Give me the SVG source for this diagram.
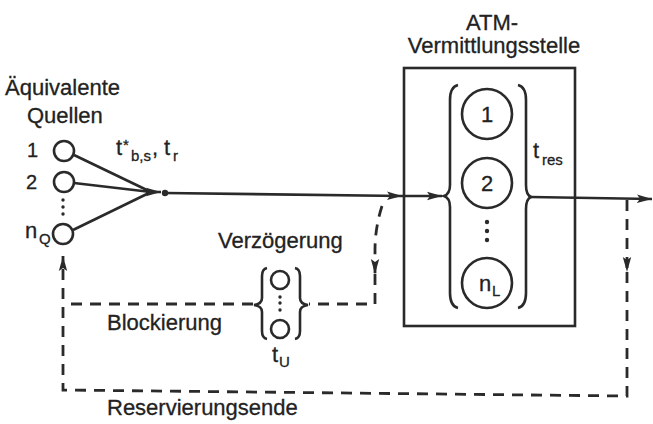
<svg xmlns="http://www.w3.org/2000/svg" width="653" height="424" viewBox="0 0 653 424">
<defs>
<style>
text{font-family:"Liberation Sans",Arial,Helvetica,sans-serif;fill:#222;font-size:22px;stroke:#222;stroke-width:0.3}
.sub{font-size:15px}
.sm{font-size:20px}
.ln{fill:none;stroke:#2a2a2a;stroke-width:2.6}
.dash{fill:none;stroke:#2a2a2a;stroke-width:2.8;stroke-dasharray:11 8}
.node{fill:#fff;stroke:#2a2a2a;stroke-width:2.6}
.dot{fill:#2a2a2a}
</style>
<marker id="arr" markerUnits="userSpaceOnUse" markerWidth="16" markerHeight="10" refX="15" refY="5" orient="auto">
<path d="M0,0.8 L15,5 L0,9.2 L3,5 z" fill="#2a2a2a"/>
</marker>
</defs>
<rect width="653" height="424" fill="#fff"/>

<g id="connectors">
<line class="ln" x1="74" y1="155" x2="151" y2="192"/>
<line class="ln" x1="74" y1="183" x2="151" y2="192"/>
<line class="ln" x1="73" y1="230" x2="151" y2="192"/>
<path class="ln" d="M146,192 L161,192" marker-end="url(#arr)"/>
<path class="ln" d="M165,193 L402,196" marker-end="url(#arr)"/>
<path class="ln" d="M402,196 L442,196" marker-end="url(#arr)"/>
<path class="ln" d="M531,197 L652,199" marker-end="url(#arr)"/>
<path class="dash" d="M382,206 Q375,228 375,250 L375,274" marker-end="url(#arr)"/>
<path class="dash" d="M375,274 L375,304 L309,304"/>
<path class="dash" d="M253,304 L63,304"/>
<path class="dash" d="M627,200 L627,272" marker-end="url(#arr)"/>
<path class="dash" d="M627,272 L627,396 L63,390 L63,256" marker-end="url(#arr)"/>
</g>

<g id="sources">
<text x="5" y="95">Äquivalente</text>
<text x="27" y="123">Quellen</text>
<g id="src1"><circle class="node" cx="64" cy="151" r="10"/><text class="sm" x="27" y="157">1</text></g>
<g id="src2"><circle class="node" cx="64" cy="182" r="10"/><text class="sm" x="26" y="189">2</text></g>
<g id="srcdots"><circle class="dot" cx="63" cy="200" r="1.7"/><circle class="dot" cx="63" cy="207" r="1.7"/><circle class="dot" cx="63" cy="214" r="1.7"/></g>
<g id="srcnQ"><circle class="node" cx="63" cy="234" r="10"/><text x="25" y="238">n</text><text class="sub" x="39" y="244">Q</text></g>
</g>

<g id="junction">
<circle class="dot" cx="165" cy="193" r="3.2"/>
<text x="116" y="155">t</text><text class="sub" x="123" y="150">*</text><text class="sub" x="131" y="161">b,s</text><text x="152" y="155">,</text><text x="164" y="155">t</text><text class="sub" x="173" y="161">r</text>
</g>

<g id="atm">
<text x="492" y="30" text-anchor="middle">ATM-</text>
<text x="494" y="53" text-anchor="middle">Vermittlungsstelle</text>
<rect class="ln" x="404" y="68" width="171" height="258"/>
<path class="ln" d="M458,85 Q450,87 450,100 L450,185 Q450,194 444,196 Q450,198 450,207 L450,293 Q450,306 458,308"/>
<path class="ln" d="M518,85 Q526,87 526,100 L526,185 Q526,195 531,197 Q526,199 526,209 L526,293 Q526,306 518,308"/>
<g id="line1"><circle class="node" cx="487" cy="114" r="25"/><text x="487" y="122" text-anchor="middle">1</text></g>
<g id="line2"><circle class="node" cx="487" cy="183" r="25"/><text x="487" y="191" text-anchor="middle">2</text></g>
<g id="linedots"><circle class="dot" cx="487" cy="222" r="2.2"/><circle class="dot" cx="487" cy="231" r="2.2"/><circle class="dot" cx="487" cy="240" r="2.2"/></g>
<g id="linenL"><circle class="node" cx="487" cy="283" r="25"/><text x="479" y="291">n</text><text class="sub" x="492" y="296">L</text></g>
<text x="533" y="158">t</text><text class="sub" x="542" y="165">res</text>
</g>

<g id="delay">
<text x="218" y="248">Verzögerung</text>
<path class="ln" d="M267,268 Q262,269 262,276 L262,298 Q262,304 254,305 Q262,306 262,312 L262,331 Q262,338 267,339"/>
<path class="ln" d="M295,268 Q300,269 300,276 L300,298 Q300,304 308,305 Q300,306 300,312 L300,331 Q300,338 295,339"/>
<circle class="node" cx="280" cy="280" r="9"/>
<circle class="dot" cx="280" cy="297" r="1.7"/><circle class="dot" cx="280" cy="303" r="1.7"/><circle class="dot" cx="280" cy="310" r="1.7"/>
<circle class="node" cx="280" cy="329" r="9"/>
<text x="272" y="362">t</text><text class="sub" x="279" y="367">U</text>
</g>

<g id="labels">
<text x="107" y="330">Blockierung</text>
<text x="107" y="415">Reservierungsende</text>
</g>
</svg>
